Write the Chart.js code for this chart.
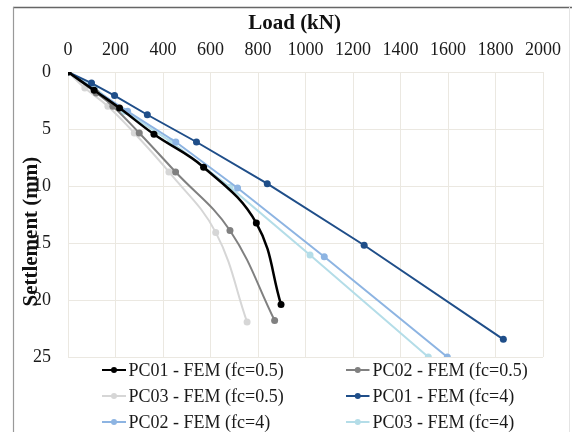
<!DOCTYPE html>
<html>
<head>
<meta charset="utf-8">
<script src="https://cdn.jsdelivr.net/npm/chart.js@4/dist/chart.umd.min.js"></script>
<style>
html,body{margin:0;padding:0;background:#fff;}
canvas{display:block;}
</style>
</head>
<body>
<canvas id="c" width="572" height="432"></canvas>
<script>
// ---- data (Load kN, Settlement mm) ----
const xTickLabels = ["0","200","400","600","800","1000","1200","1400","1600","1800","2000"];
const yTickLabels = ["0","5","10","15","20","25"];
const seriesNames = ["PC01 - FEM (fc=0.5)","PC02 - FEM (fc=0.5)","PC03 - FEM (fc=0.5)","PC01 - FEM (fc=4)","PC02 - FEM (fc=4)","PC03 - FEM (fc=4)"];

const loadPC01_05 = [0, 110, 217, 362, 571, 793, 897];
const setPC01_05  = [0, 1.6, 3.16, 5.46, 8.35, 13.25, 20.4];
const loadPC02_05 = [0, 119, 189, 300, 453, 682, 870];
const setPC02_05  = [0, 1.84, 3.0, 5.35, 8.77, 13.9, 21.8];
const loadPC03_05 = [0, 71, 168, 279, 425, 622, 754];
const setPC03_05  = [0, 1.4, 3.0, 5.35, 8.77, 14.07, 21.93];
const loadPC01_4  = [0, 99, 196, 334, 541, 839, 1247, 1833];
const setPC01_4   = [0, 0.97, 2.07, 3.75, 6.14, 9.8, 15.2, 23.45];
const loadPC02_4  = [0, 251, 454, 714, 1079, 1597];
const setPC02_4   = [0, 3.45, 6.14, 10.18, 16.2, 25];
const loadPC03_4  = [0, 112, 237, 432, 682, 1019, 1517];
const setPC03_4   = [0, 1.4, 3.45, 6.09, 10.1, 16.05, 25];

const colors = ["#000000","#808080","#d6d6d6","#1f4e89","#8db4e2","#b4dde8"];
const smooth = [true,true,true,false,false,false];

function pts(xs, ys){ return xs.map((v,i)=>({x:v, y:ys[i]})); }
const allData = [
  pts(loadPC01_05,setPC01_05), pts(loadPC02_05,setPC02_05), pts(loadPC03_05,setPC03_05),
  pts(loadPC01_4,setPC01_4), pts(loadPC02_4,setPC02_4), pts(loadPC03_4,setPC03_4)
];

const datasets = allData.map((d,i)=>({
  label: seriesNames[i],
  data: d,
  borderColor: colors[i],
  backgroundColor: colors[i],
  pointBackgroundColor: colors[i],
  pointBorderColor: colors[i],
  pointRadius: 3.5,
  pointBorderWidth: 0,
  borderWidth: i===0 ? 2.5 : 2,
  tension: smooth[i] ? 0.4 : 0,
  fill: false
}));

const serif = "'Liberation Serif','Times New Roman',serif";

const decor = {
  id: 'decor',
  beforeDraw(chart){
    const ctx = chart.ctx;
    ctx.save();
    ctx.fillStyle = '#fff';
    ctx.fillRect(0,0,chart.width,chart.height);
    ctx.restore();
  },
  afterDraw(chart){
    const ctx = chart.ctx;
    const ca = chart.chartArea;
    ctx.save();
    // frame
    ctx.strokeStyle = '#666'; ctx.lineWidth = 1.5;
    ctx.beginPath(); ctx.moveTo(13, 7.5); ctx.lineTo(572, 7.5); ctx.stroke();
    ctx.strokeStyle = '#999'; ctx.lineWidth = 1.2;
    ctx.beginPath(); ctx.moveTo(13.5, 7); ctx.lineTo(13.5, 432); ctx.stroke();
    ctx.strokeStyle = '#e4e4e4'; ctx.lineWidth = 1;
    ctx.beginPath(); ctx.moveTo(569.5, 7); ctx.lineTo(569.5, 432); ctx.stroke();
    // axis titles
    ctx.fillStyle = '#111';
    ctx.font = "bold 21px " + serif;
    ctx.textAlign = 'center'; ctx.textBaseline = 'middle';
    ctx.fillText('Load (kN)', ca.left + (ca.right-ca.left)*0.477, 24);
    ctx.save();
    ctx.translate(32, ca.top + (ca.bottom-ca.top)*0.56);
    ctx.rotate(-Math.PI/2);
    ctx.fillText('Settlement (mm)', 0, 0);
    ctx.restore();
    // legend
    const rows = [370, 396, 422];
    const cols = [{l:102, r:126, t:128.5}, {l:346, r:369.5, t:372.5}];
    ctx.font = "18px " + serif;
    ctx.textAlign = 'left'; ctx.textBaseline = 'middle';
    chart.data.datasets.forEach((ds, i) => {
      const c = cols[i % 2], y = rows[Math.floor(i/2)];
      ctx.strokeStyle = ds.borderColor; ctx.lineWidth = 2;
      ctx.beginPath(); ctx.moveTo(c.l, y); ctx.lineTo(c.r, y); ctx.stroke();
      ctx.fillStyle = ds.borderColor;
      ctx.beginPath(); ctx.arc((c.l+c.r)/2, y, 3, 0, Math.PI*2); ctx.fill();
      ctx.fillStyle = '#1a1a1a';
      ctx.fillText(ds.label, c.t, y + 1);
    });
    ctx.restore();
  }
};

new Chart(document.getElementById('c'), {
  type: 'line',
  data: { datasets },
  plugins: [decor],
  options: {
    responsive: false,
    animation: false,
    devicePixelRatio: 1,
    layout: { padding: { left: 0, right: 24, top: 0, bottom: 75 } },
    plugins: { legend: { display: false }, tooltip: { enabled: false } },
    scales: {
      x: {
        type: 'linear', position: 'top', min: 0, max: 2000,
        afterBuildTicks(s){ s.ticks = xTickLabels.map(v=>({value:+v})); },
        afterFit(s){ s.height = 72; },
        ticks: { stepSize: 200, padding: 11, color: '#1a1a1a', font: { family: serif, size: 18 }, maxRotation: 0,
                 callback: (v)=> xTickLabels.includes(String(v)) ? String(v) : '' },
        grid: { color: '#ebe8e1', lineWidth: 1, drawTicks: false },
        border: { display: true, color: '#ebe8e1' }
      },
      y: {
        type: 'linear', reverse: true, min: 0, max: 25,
        afterBuildTicks(s){ s.ticks = yTickLabels.map(v=>({value:+v})); },
        afterFit(s){ s.width = 68; },
        ticks: { stepSize: 5, padding: 17, color: '#1a1a1a', font: { family: serif, size: 18 },
                 callback: (v)=> yTickLabels.includes(String(v)) ? String(v) : '' },
        grid: { color: '#ebe8e1', lineWidth: 1, drawTicks: false },
        border: { display: true, color: '#ebe8e1' }
      }
    }
  }
});
</script>
</body>
</html>
